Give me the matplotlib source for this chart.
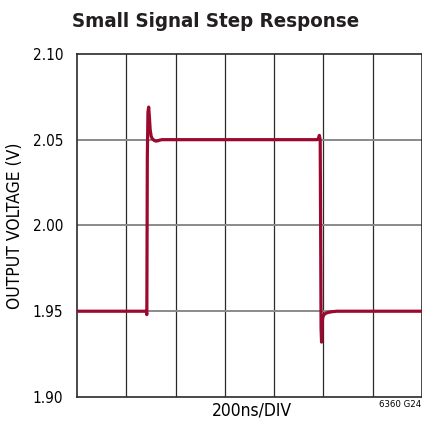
import numpy as np
import matplotlib.pyplot as plt

# step response trace (time in ns, output in V)
time_ns = [0, 281, 283.5, 285.5, 288, 291, 294, 297, 301, 306, 314, 320, 327, 335, 345,
           975, 980, 984, 987.5, 989.5, 991, 993, 995, 998, 1003, 1010, 1020, 1035, 1055, 1075, 1400]
vout = [1.950, 1.950, 1.948, 2.040, 2.066, 2.069, 2.063, 2.056, 2.052, 2.0505, 2.0495, 2.0492, 2.0493, 2.0497, 2.050,
        2.050, 2.0505, 2.0525, 2.050, 1.990, 1.940, 1.932, 1.943, 1.9465, 1.948, 1.9488, 1.9493, 1.9497, 1.950, 1.950, 1.950]

y_ticks = [1.90, 1.95, 2.00, 2.05, 2.10]
y_labels = ['1.90', '1.95', '2.00', '2.05', '2.10']
x_div = 200
n_div = 7

font = dict(family='DejaVu Sans', fontstretch='condensed')
trace_color = '#9b0a2e'

fig = plt.figure(figsize=(4.22, 4.21), dpi=100)
ax = fig.add_axes([0.1825, 0.057, 0.817, 0.815])

ax.plot(time_ns, vout, color=trace_color, lw=2.3, solid_joinstyle='round', zorder=3)

ax.set_xlim(0, x_div * n_div)
ax.set_ylim(1.90, 2.10)

# scope style grid: dark verticals, grey horizontals
for i in range(1, n_div):
    ax.axvline(i * x_div, color='#2a2a2a', lw=0.9, zorder=1)
for y in y_ticks[1:-1]:
    ax.axhline(y, color='#8a8a8a', lw=1.4, zorder=1)

ax.set_xticks([])
ax.set_yticks(y_ticks)
ax.set_yticklabels(y_labels, fontsize=11, **font)
ax.tick_params(axis='y', length=0, pad=10)

for s in ax.spines.values():
    s.set_color('#2a2a2a')
    s.set_linewidth(1.2)

ax.set_ylabel('OUTPUT VOLTAGE (V)', fontsize=12.5, **font)
ax.yaxis.set_label_coords(-0.153, 0.5)
fig.text(0.596, 0.026, '200ns/DIV', fontsize=12.5, ha='center', va='center', **font)
fig.text(0.999, 0.040, '6360 G24', fontsize=6.8, ha='right', va='center', **font)
fig.text(0.511, 0.948, 'Small Signal Step Response', fontsize=14.7,
         fontweight='bold', ha='center', va='center', color='#231f20', **font)

fig.savefig('out.png', dpi=100)
